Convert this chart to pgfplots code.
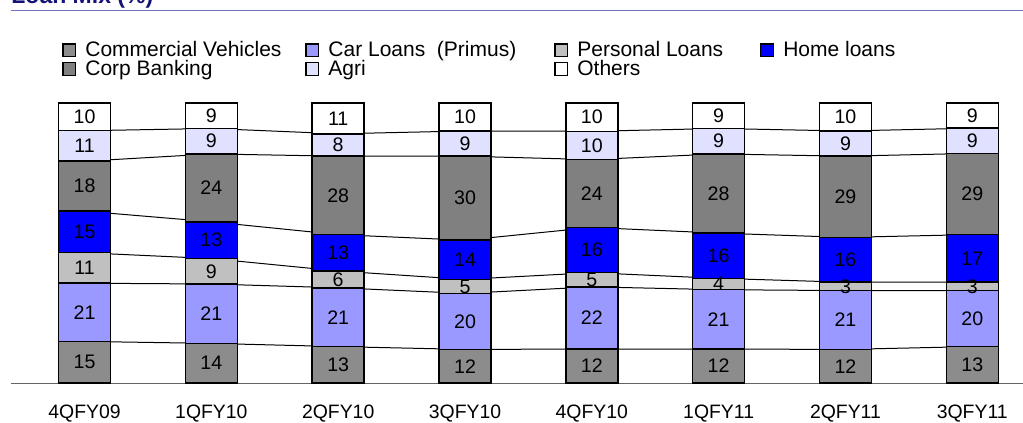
\documentclass[border=0pt]{standalone}
\usepackage{pgfplots}
\pgfplotsset{compat=1.18}
\usepackage{pgfplotstable}
\usepackage{fontspec}
\setmainfont{Liberation Sans}
\definecolor{cvcol}{RGB}{140,140,140}
\definecolor{carcol}{RGB}{153,153,255}
\definecolor{plcol}{RGB}{192,192,192}
\definecolor{hlcol}{RGB}{0,0,255}
\definecolor{cbcol}{RGB}{128,128,128}
\definecolor{agcol}{RGB}{224,224,255}
\definecolor{otcol}{RGB}{255,255,255}
\definecolor{titleblue}{RGB}{20,20,120}
\definecolor{titleline}{RGB}{112,112,192}

% segment heights (share of bar) and printed labels
\pgfplotstableread{
x  cv    cvl car   carl pl    pll hl    hll cb    cbl ag    agl ot    otl
0  14.85 15  20.79 21   10.89 11  14.85 15  17.82 18  10.89 11  9.90  10
1  14.14 14  21.21 21   9.09  9   13.13 13  24.24 24  9.09  9   9.09  9
2  13    13  21    21   6     6   13    13  28    28  8     8   11    11
3  12    12  20    20   5     5   14    14  30    30  9     9   10    10
4  12.12 12  22.22 22   5.05  5   16.16 16  24.24 24  10.10 10  10.10 10
5  12.12 12  21.21 21   4.04  4   16.16 16  28.28 28  9.09  9   9.09  9
6  12    12  21    21   3     3   16    16  29    29  9     9   10    10
7  13    13  20    20   3     3   17    17  29    29  9     9   9     9
}\loandata

% label positions (middle of each segment)
\pgfplotstableread{
x  cvm   cvl carm  carl plm   pll hlm   hll cbm   cbl agm   agl otm   otl
0  7.43  15  25.25 21   41.09 11  53.96 15  70.30 18  84.66 11  95.05 10
1  7.07  14  24.75 21   39.90 9   51.01 13  69.70 24  86.37 9   95.46 9
2  6.5   13  23.5  21   37    6   46.5  13  67    28  85    8   94.5  11
3  6     12  22    20   34.5  5   44    14  66    30  85.5  9   95    10
4  6.06  12  23.23 22   36.87 5   47.48 16  67.68 24  84.85 10  94.95 10
5  6.06  12  22.73 21   35.35 4   45.46 16  67.68 28  86.37 9   95.46 9
6  6     12  22.5  21   34.5  3   44    16  66.5  29  85.5  9   95    10
7  6.5   13  23    20   34.5  3   44.5  17  67.5  29  86.5  9   95.5  9
}\labeldata

\pgfplotsset{mybase/.style={
  scale only axis, width=506pt, height=140pt,
  xmin=-0.58, xmax=7.40, ymin=0, ymax=100,
  at={(5.5pt,20pt)}, anchor=south west, clip=false}}

\begin{document}
\begin{tikzpicture}
\path[use as bounding box, clip] (0,0) rectangle (511.5pt,211.5pt);
\node[anchor=base west, font=\bfseries\fontsize{11.5}{13}\selectfont, text=titleblue, inner sep=0pt] at (5.5pt,209.75pt) {Loan Mix (\%)};
\draw[titleline, line width=0.8pt] (5.5pt,206.25pt) -- (511.5pt,206.25pt);

% connector lines (hidden behind the bars)
\begin{axis}[mybase, hide axis, stack plots=y, no markers]
\addplot[black, line width=0.5pt] table[x=x,y=cv]{\loandata};
\addplot[black, line width=0.5pt] table[x=x,y=car]{\loandata};
\addplot[black, line width=0.5pt] table[x=x,y=pl]{\loandata};
\addplot[black, line width=0.5pt] table[x=x,y=hl]{\loandata};
\addplot[black, line width=0.5pt] table[x=x,y=cb]{\loandata};
\addplot[black, line width=0.5pt] table[x=x,y=ag]{\loandata};
\end{axis}

% stacked bars
\begin{axis}[mybase,
  ybar stacked, bar width=26pt,
  axis x line=bottom, axis y line=none,
  x axis line style={-, draw={rgb,255:red,100;green,100;blue,100}, line width=0.5pt},
  xtick={0,...,7},
  xticklabels={4QFY09,1QFY10,2QFY10,3QFY10,4QFY10,1QFY11,2QFY11,3QFY11},
  major tick length=0pt,
  xticklabel style={anchor=base, yshift=-17.5pt, font=\fontsize{9.7}{11}\selectfont},
  ytick=\empty,
  legend columns=4,
  legend cell align=left,
  legend image code/.code={\draw[#1,draw=black,line width=0.6pt] (0pt,-3.2pt) rectangle (6.4pt,3.2pt);},
  legend style={draw=none, fill=none, inner sep=0pt,
     at={(axis description cs:0.0504,1.229)}, anchor=north west,
     font=\fontsize{10.5}{12}\selectfont,
     nodes={inner sep=1pt},
     row sep=-1.8pt,
     /tikz/every odd column/.append style={column sep=3.5pt},
     /tikz/column 2/.append style={column sep=11pt},
     /tikz/column 4/.append style={column sep=18pt},
     /tikz/column 6/.append style={column sep=17.5pt}},
]
\addplot[fill=cvcol, draw=black, line width=0.75pt] table[x=x,y=cv]{\loandata};
\addplot[fill=carcol, draw=black, line width=0.75pt] table[x=x,y=car]{\loandata};
\addplot[fill=plcol, draw=black, line width=0.75pt] table[x=x,y=pl]{\loandata};
\addplot[fill=hlcol, draw=black, line width=0.75pt] table[x=x,y=hl]{\loandata};
\addplot[fill=cbcol, draw=black, line width=0.75pt] table[x=x,y=cb]{\loandata};
\addplot[fill=agcol, draw=black, line width=0.75pt] table[x=x,y=ag]{\loandata};
\addplot[fill=otcol, draw=black, line width=0.75pt] table[x=x,y=ot]{\loandata};
\legend{Commercial Vehicles, Car Loans\ \ (Primus), Personal Loans, Home loans, Corp Banking, Agri, Others}
\end{axis}

% value labels in the middle of each segment
\begin{axis}[mybase, hide axis,
  nodes near coords, point meta=explicit symbolic,
  every node near coord/.append style={anchor=center, black, inner sep=0pt,
     font=\fontsize{9.8}{11}\selectfont}]
\addplot[draw=none, mark=none] table[x=x,y=cvm,meta=cvl]{\labeldata};
\addplot[draw=none, mark=none] table[x=x,y=carm,meta=carl]{\labeldata};
\addplot[draw=none, mark=none] table[x=x,y=plm,meta=pll]{\labeldata};
\addplot[draw=none, mark=none] table[x=x,y=hlm,meta=hll]{\labeldata};
\addplot[draw=none, mark=none] table[x=x,y=cbm,meta=cbl]{\labeldata};
\addplot[draw=none, mark=none] table[x=x,y=agm,meta=agl]{\labeldata};
\addplot[draw=none, mark=none] table[x=x,y=otm,meta=otl]{\labeldata};
\end{axis}
\end{tikzpicture}
\end{document}
